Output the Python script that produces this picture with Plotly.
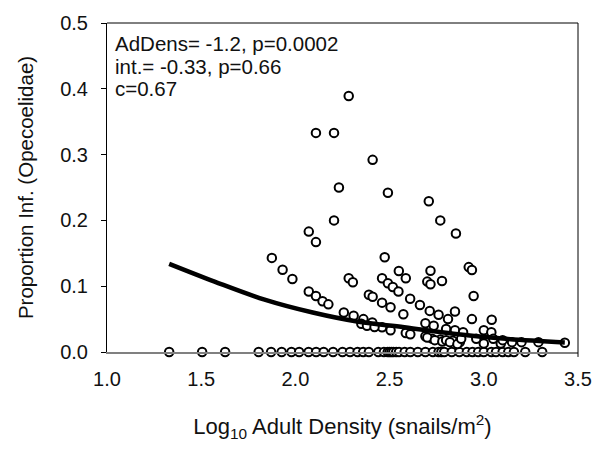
import plotly.graph_objects as go

# Infected-proportion observations (log10 adult density, proportion infected)
pos_x = [2.283, 2.109, 2.205, 2.41, 2.231, 2.491, 2.708, 2.205, 2.769, 2.071,
         2.852, 2.109, 1.875, 2.474, 2.92, 2.937, 1.932, 2.549, 2.717, 2.586,
         1.984, 2.283, 2.305, 2.46, 2.700, 2.778, 2.717, 2.491, 2.517, 2.547,
         2.071, 2.109, 2.144, 2.175, 2.946, 2.609, 2.39, 2.41, 2.661, 2.46,
         2.505, 2.713, 2.847, 2.257, 2.76, 2.573, 2.309, 2.81, 2.361, 2.937,
         3.042, 2.408, 2.69, 2.734, 2.46, 2.80, 2.505, 2.847, 3.0, 2.89,
         3.04, 2.586, 2.61, 2.69, 2.725, 2.77, 2.835, 2.873, 3.0, 3.09,
         3.15, 3.20, 3.29, 3.43, 2.35, 2.38, 2.42, 2.70, 2.74, 2.78,
         2.80, 2.82, 2.86, 2.88, 2.96, 3.05, 3.10]
pos_y = [0.389, 0.333, 0.333, 0.292, 0.25, 0.242, 0.229, 0.2, 0.2, 0.183,
         0.18, 0.167, 0.143, 0.144, 0.129, 0.1245, 0.125, 0.123, 0.1235, 0.112,
         0.111, 0.112, 0.106, 0.112, 0.107, 0.108, 0.103, 0.1046, 0.0987, 0.092,
         0.092, 0.085, 0.077, 0.0724, 0.085, 0.081, 0.087, 0.084, 0.0714, 0.075,
         0.068, 0.0625, 0.0615, 0.06, 0.0565, 0.0575, 0.055, 0.05, 0.05, 0.05,
         0.049, 0.045, 0.0437, 0.040, 0.0377, 0.035, 0.033, 0.033, 0.033, 0.030,
         0.030, 0.029, 0.027, 0.024, 0.0203, 0.019, 0.017, 0.0153, 0.013, 0.013,
         0.015, 0.015, 0.015, 0.014, 0.043, 0.040, 0.038, 0.022, 0.018, 0.016,
         0.018, 0.015, 0.012, 0.020, 0.020, 0.020, 0.018]

# Sites with zero infection
zero_x = [1.33, 1.505, 1.627, 1.805, 1.871, 1.927, 1.979, 2.02, 2.07, 2.11,
          2.15, 2.2, 2.25, 2.29, 2.33, 2.36, 2.39, 2.44, 2.47, 2.49, 2.50,
          2.51, 2.52, 2.535, 2.55, 2.58, 2.61, 2.65, 2.69, 2.73, 2.76, 2.775,
          2.79, 2.83, 2.87, 2.91, 2.94, 2.97, 3.0, 3.04, 3.065, 3.10, 3.13,
          3.16, 3.22, 3.31]
zero_y = [0.0] * len(zero_x)

# Fitted curve
fit_x = [1.33, 1.571, 1.832, 2.092, 2.335, 2.578, 2.839, 3.099, 3.43]
fit_y = [0.134, 0.107, 0.080, 0.060, 0.046, 0.0377, 0.0278, 0.0204, 0.0144]

ann_lines = ["AdDens= -1.2, p=0.0002", "int.= -0.33, p=0.66", "c=0.67"]

FONT = "Liberation Sans, Arial, sans-serif"

marker = dict(symbol="circle", size=8.5, color="white",
              line=dict(color="black", width=2))

fig = go.Figure()
fig.add_trace(go.Scatter(x=zero_x, y=zero_y, mode="markers", marker=marker,
                         cliponaxis=False, showlegend=False))
fig.add_trace(go.Scatter(x=pos_x, y=pos_y, mode="markers", marker=marker,
                         cliponaxis=False, showlegend=False))
fig.add_trace(go.Scatter(x=fit_x, y=fit_y, mode="lines",
                         line=dict(color="black", width=4.5, shape="spline"),
                         cliponaxis=False, showlegend=False))

for i, t in enumerate(ann_lines):
    fig.add_annotation(x=0.012, y=0.938 - i * 0.0693, xref="paper", yref="paper",
                       text=t, showarrow=False, xanchor="left", yanchor="middle",
                       font=dict(family=FONT, size=20.5, color="#111111"))

# top and right frame lines
fig.add_shape(type="line", xref="paper", yref="paper", x0=0, x1=1, y0=1, y1=1,
              line=dict(color="black", width=1))
fig.add_shape(type="line", xref="paper", yref="paper", x0=1, x1=1, y0=-0.015, y1=1,
              line=dict(color="black", width=1))

fig.update_layout(
    width=604, height=453,
    margin=dict(l=107, r=17, t=16, b=101),
    paper_bgcolor="white", plot_bgcolor="white",
    font=dict(family=FONT, size=20, color="#111111"),
    xaxis=dict(range=[1.0, 3.5], dtick=0.5, tick0=1.0, tickformat=".1f",
               showgrid=False, zeroline=False, showline=True,
               linecolor="#808080", linewidth=1.5, ticks="",
               ticklabelstandoff=8,
               tickfont=dict(family=FONT, size=20, color="#111111"),
               title=dict(text="Log<sub>10</sub> Adult Density (snails/m<sup>2</sup>)",
                          font=dict(family=FONT, size=22, color="#111111"),
                          standoff=30)),
    yaxis=dict(range=[0, 0.5], dtick=0.1, tick0=0, tickformat=".1f",
               showgrid=False, zeroline=False, showline=True,
               linecolor="black", linewidth=1, ticks="outside", ticklen=5,
               tickcolor="black", ticklabelstandoff=9,
               tickfont=dict(family=FONT, size=20, color="#111111"),
               title=dict(text="Proportion Inf. (Opecoelidae)",
                          font=dict(family=FONT, size=20.5, color="#111111"),
                          standoff=21)),
)

fig.write_html("out.html")
